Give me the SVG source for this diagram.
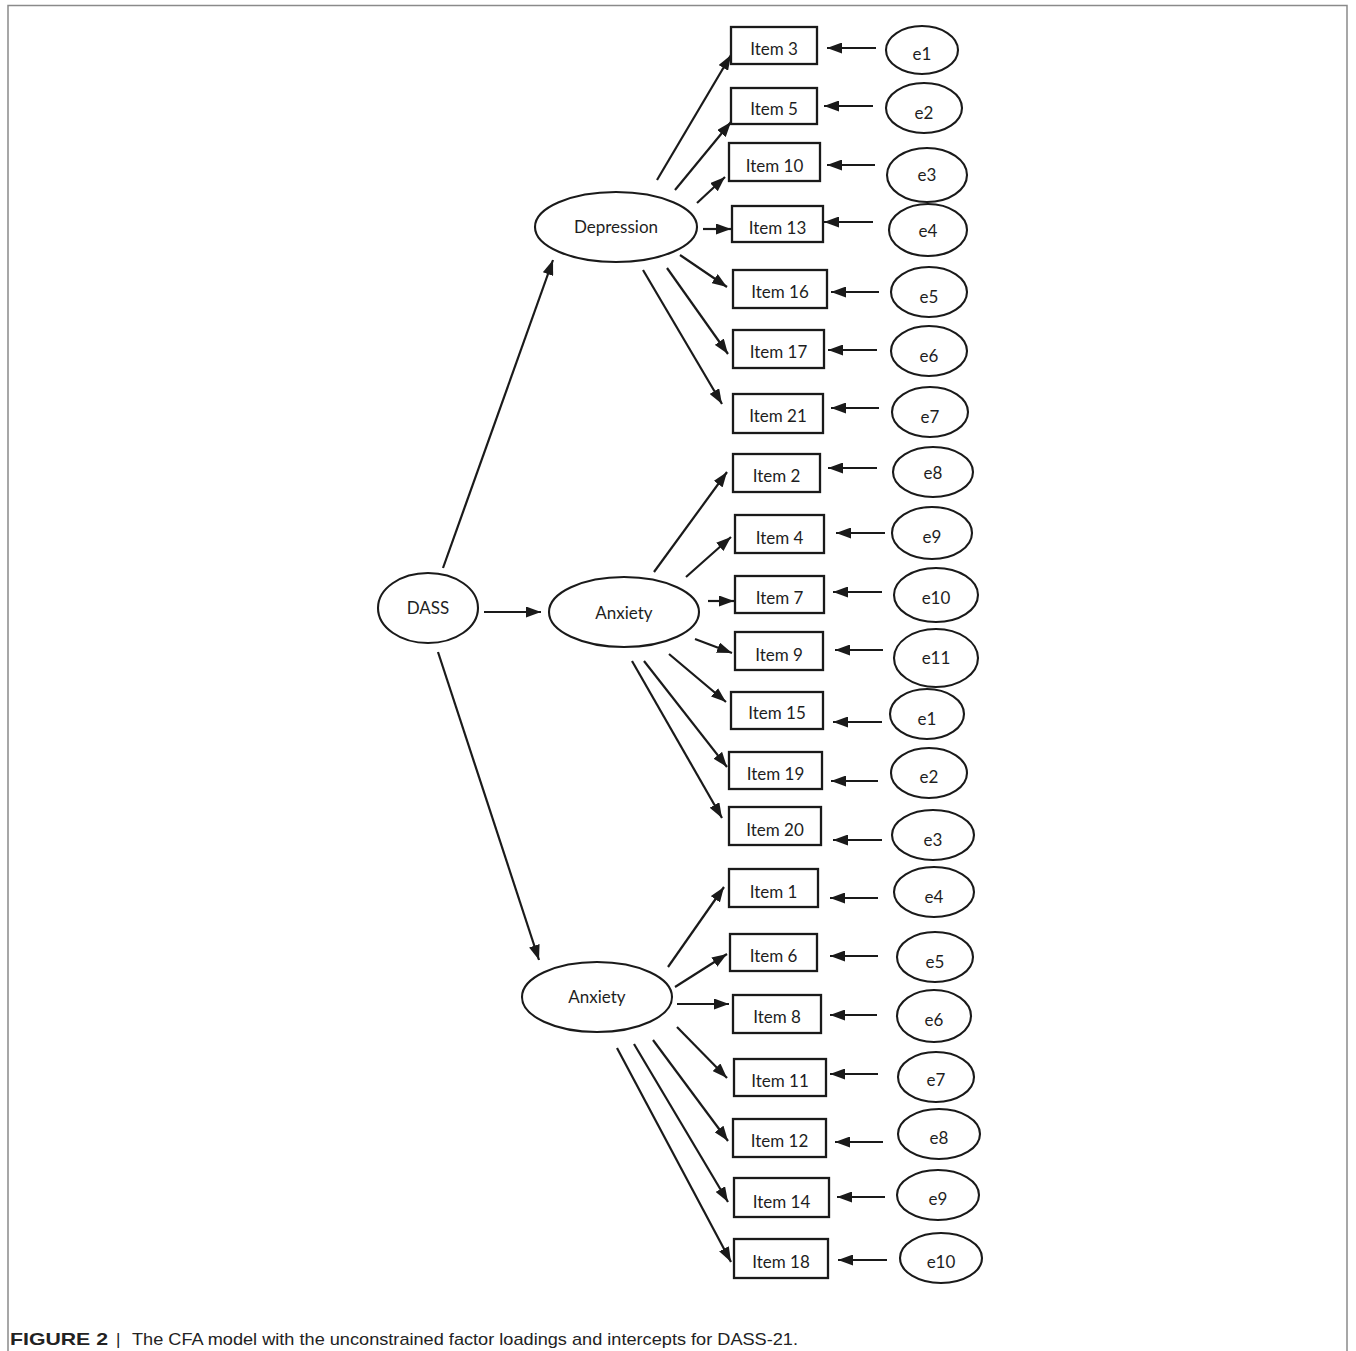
<svg xmlns="http://www.w3.org/2000/svg" width="1356" height="1351" viewBox="0 0 1356 1351">
<defs>
<marker id="ah" markerUnits="userSpaceOnUse" markerWidth="15" markerHeight="11" refX="15" refY="5.5" orient="auto">
<path d="M0,0 L15,5.5 L0,11 z" fill="#1a1a1a"/>
</marker>
<style>
.box{fill:#fff;stroke:#1a1a1a;stroke-width:2.3}
.ell{fill:#fff;stroke:#1a1a1a;stroke-width:2.1}
.t{font-family:Lato,"Open Sans",sans-serif;font-size:17px;fill:#1e1e1e;text-anchor:middle}
.c line{stroke:#1a1a1a;stroke-width:2.2;marker-end:url(#ah)}
.cap{font-family:"Liberation Sans",Arial,sans-serif;font-size:17px;fill:#222}
</style>
</defs>
<rect width="1356" height="1351" fill="#fff"/>
<path d="M8,1351 V5.5 H1347 V1351" fill="none" stroke="#8a8a8a" stroke-width="1.5"/>

<g id="connectors" class="c">
<line x1="443" y1="568" x2="553" y2="260"/>
<line x1="484" y1="612" x2="541" y2="612"/>
<line x1="438" y1="652" x2="539" y2="960"/>
<line x1="657" y1="180" x2="731" y2="55"/>
<line x1="675" y1="190" x2="731" y2="122"/>
<line x1="697" y1="203" x2="725" y2="177"/>
<line x1="703" y1="229" x2="731" y2="229"/>
<line x1="680" y1="255" x2="727" y2="287"/>
<line x1="667" y1="268" x2="728" y2="354"/>
<line x1="643" y1="270" x2="722" y2="404"/>
<line x1="654" y1="572" x2="727" y2="472"/>
<line x1="686" y1="577" x2="731" y2="537"/>
<line x1="708" y1="601" x2="734" y2="601"/>
<line x1="695" y1="639" x2="732" y2="653"/>
<line x1="669" y1="654" x2="726" y2="702"/>
<line x1="644" y1="661" x2="727" y2="767"/>
<line x1="632" y1="661" x2="722" y2="818"/>
<line x1="668" y1="967" x2="724" y2="887"/>
<line x1="675" y1="987" x2="727" y2="954"/>
<line x1="677" y1="1004" x2="729" y2="1004"/>
<line x1="677" y1="1027" x2="727" y2="1078"/>
<line x1="653" y1="1040" x2="728" y2="1141"/>
<line x1="634" y1="1044" x2="728" y2="1202"/>
<line x1="617" y1="1048" x2="731" y2="1262"/>
<line x1="876" y1="48" x2="827" y2="48"/>
<line x1="873" y1="106" x2="824" y2="106"/>
<line x1="875" y1="165" x2="827" y2="165"/>
<line x1="873" y1="222" x2="824" y2="222"/>
<line x1="879" y1="292" x2="831" y2="292"/>
<line x1="877" y1="350" x2="828" y2="350"/>
<line x1="879" y1="408" x2="831" y2="408"/>
<line x1="877" y1="468" x2="828" y2="468"/>
<line x1="885" y1="533" x2="836" y2="533"/>
<line x1="882" y1="592" x2="833" y2="592"/>
<line x1="883" y1="650" x2="835" y2="650"/>
<line x1="882" y1="722" x2="833" y2="722"/>
<line x1="878" y1="781" x2="831" y2="781"/>
<line x1="882" y1="840" x2="833" y2="840"/>
<line x1="878" y1="898" x2="830" y2="898"/>
<line x1="878" y1="956" x2="830" y2="956"/>
<line x1="877" y1="1015" x2="830" y2="1015"/>
<line x1="878" y1="1074" x2="830" y2="1074"/>
<line x1="883" y1="1142" x2="835" y2="1142"/>
<line x1="885" y1="1197" x2="837" y2="1197"/>
<line x1="887" y1="1260" x2="838" y2="1260"/>
</g>

<g id="DASS"><ellipse class="ell" cx="428" cy="608" rx="50" ry="35"/><text class="t" x="428" y="614">DASS</text></g>
<g id="Depression"><ellipse class="ell" cx="616" cy="227" rx="81" ry="35"/><text class="t" x="616" y="233">Depression</text></g>
<g id="Anxiety1"><ellipse class="ell" cx="624" cy="612" rx="75" ry="35"/><text class="t" x="624" y="619">Anxiety</text></g>
<g id="Anxiety2"><ellipse class="ell" cx="597" cy="997" rx="75" ry="35"/><text class="t" x="597" y="1003">Anxiety</text></g>

<g id="item3"><rect class="box" x="731" y="27" width="86" height="37"/><text class="t" x="774" y="55">Item 3</text></g>
<g id="item5"><rect class="box" x="731" y="88" width="86" height="36"/><text class="t" x="774" y="115">Item 5</text></g>
<g id="item10"><rect class="box" x="729" y="143" width="91" height="38"/><text class="t" x="774.5" y="172">Item 10</text></g>
<g id="item13"><rect class="box" x="732" y="206" width="91" height="36"/><text class="t" x="777.5" y="234">Item 13</text></g>
<g id="item16"><rect class="box" x="733" y="270" width="94" height="38"/><text class="t" x="780" y="298">Item 16</text></g>
<g id="item17"><rect class="box" x="733" y="330" width="91" height="38"/><text class="t" x="778.5" y="358">Item 17</text></g>
<g id="item21"><rect class="box" x="733" y="394" width="90" height="39"/><text class="t" x="778" y="422">Item 21</text></g>
<g id="item2"><rect class="box" x="733" y="454" width="87" height="38"/><text class="t" x="776.5" y="482">Item 2</text></g>
<g id="item4"><rect class="box" x="735" y="515" width="89" height="38"/><text class="t" x="779.5" y="544">Item 4</text></g>
<g id="item7"><rect class="box" x="735" y="576" width="89" height="37"/><text class="t" x="779.5" y="604">Item 7</text></g>
<g id="item9"><rect class="box" x="735" y="632" width="88" height="38"/><text class="t" x="779" y="661">Item 9</text></g>
<g id="item15"><rect class="box" x="731" y="692" width="92" height="37"/><text class="t" x="777" y="719">Item 15</text></g>
<g id="item19"><rect class="box" x="729" y="752" width="93" height="37"/><text class="t" x="775.5" y="780">Item 19</text></g>
<g id="item20"><rect class="box" x="729" y="807" width="92" height="38"/><text class="t" x="775" y="836">Item 20</text></g>
<g id="item1"><rect class="box" x="729" y="869" width="89" height="38"/><text class="t" x="773.5" y="898">Item 1</text></g>
<g id="item6"><rect class="box" x="730" y="934" width="87" height="37"/><text class="t" x="773.5" y="962">Item 6</text></g>
<g id="item8"><rect class="box" x="733" y="995" width="88" height="38"/><text class="t" x="777" y="1023">Item 8</text></g>
<g id="item11"><rect class="box" x="734" y="1059" width="92" height="37"/><text class="t" x="780" y="1087">Item 11</text></g>
<g id="item12"><rect class="box" x="733" y="1119" width="93" height="38"/><text class="t" x="779.5" y="1147">Item 12</text></g>
<g id="item14"><rect class="box" x="734" y="1178" width="95" height="39"/><text class="t" x="781.5" y="1208">Item 14</text></g>
<g id="item18"><rect class="box" x="734" y="1239" width="94" height="39"/><text class="t" x="781" y="1268">Item 18</text></g>

<g id="e1a"><ellipse class="ell" cx="922" cy="50" rx="36" ry="24"/><text class="t" x="922" y="60">e1</text></g>
<g id="e2a"><ellipse class="ell" cx="924" cy="108" rx="38" ry="25"/><text class="t" x="924" y="119">e2</text></g>
<g id="e3a"><ellipse class="ell" cx="927" cy="175" rx="40" ry="27"/><text class="t" x="927" y="181">e3</text></g>
<g id="e4a"><ellipse class="ell" cx="928" cy="230" rx="39" ry="26"/><text class="t" x="928" y="237">e4</text></g>
<g id="e5a"><ellipse class="ell" cx="929" cy="292" rx="38" ry="25"/><text class="t" x="929" y="303">e5</text></g>
<g id="e6a"><ellipse class="ell" cx="929" cy="351" rx="38" ry="25"/><text class="t" x="929" y="362">e6</text></g>
<g id="e7a"><ellipse class="ell" cx="930" cy="412" rx="38" ry="25"/><text class="t" x="930" y="423">e7</text></g>
<g id="e8a"><ellipse class="ell" cx="933" cy="472" rx="40" ry="25"/><text class="t" x="933" y="479">e8</text></g>
<g id="e9a"><ellipse class="ell" cx="932" cy="533" rx="40" ry="26"/><text class="t" x="932" y="543">e9</text></g>
<g id="e10a"><ellipse class="ell" cx="936" cy="595" rx="42" ry="27"/><text class="t" x="936" y="604">e10</text></g>
<g id="e11a"><ellipse class="ell" cx="936" cy="658" rx="42" ry="29"/><text class="t" x="936" y="664">e11</text></g>
<g id="e1b"><ellipse class="ell" cx="927" cy="714" rx="37" ry="25"/><text class="t" x="927" y="725">e1</text></g>
<g id="e2b"><ellipse class="ell" cx="929" cy="773" rx="38" ry="25"/><text class="t" x="929" y="783">e2</text></g>
<g id="e3b"><ellipse class="ell" cx="933" cy="835" rx="41" ry="25"/><text class="t" x="933" y="846">e3</text></g>
<g id="e4b"><ellipse class="ell" cx="934" cy="892" rx="40" ry="25"/><text class="t" x="934" y="903">e4</text></g>
<g id="e5b"><ellipse class="ell" cx="935" cy="957" rx="38" ry="25"/><text class="t" x="935" y="968">e5</text></g>
<g id="e6b"><ellipse class="ell" cx="934" cy="1016" rx="37" ry="26"/><text class="t" x="934" y="1026">e6</text></g>
<g id="e7b"><ellipse class="ell" cx="936" cy="1077" rx="38" ry="25"/><text class="t" x="936" y="1086">e7</text></g>
<g id="e8b"><ellipse class="ell" cx="939" cy="1134" rx="41" ry="25"/><text class="t" x="939" y="1144">e8</text></g>
<g id="e9b"><ellipse class="ell" cx="938" cy="1195" rx="41" ry="25"/><text class="t" x="938" y="1205">e9</text></g>
<g id="e10b"><ellipse class="ell" cx="941" cy="1258" rx="41" ry="25"/><text class="t" x="941" y="1268">e10</text></g>

<g id="caption">
<text class="cap" x="10" y="1345" font-weight="bold" textLength="98" lengthAdjust="spacingAndGlyphs">FIGURE 2</text>
<text class="cap" x="116" y="1345">|</text>
<text class="cap" x="132" y="1345" textLength="666" lengthAdjust="spacingAndGlyphs">The CFA model with the unconstrained factor loadings and intercepts for DASS-21.</text>
</g>
</svg>
